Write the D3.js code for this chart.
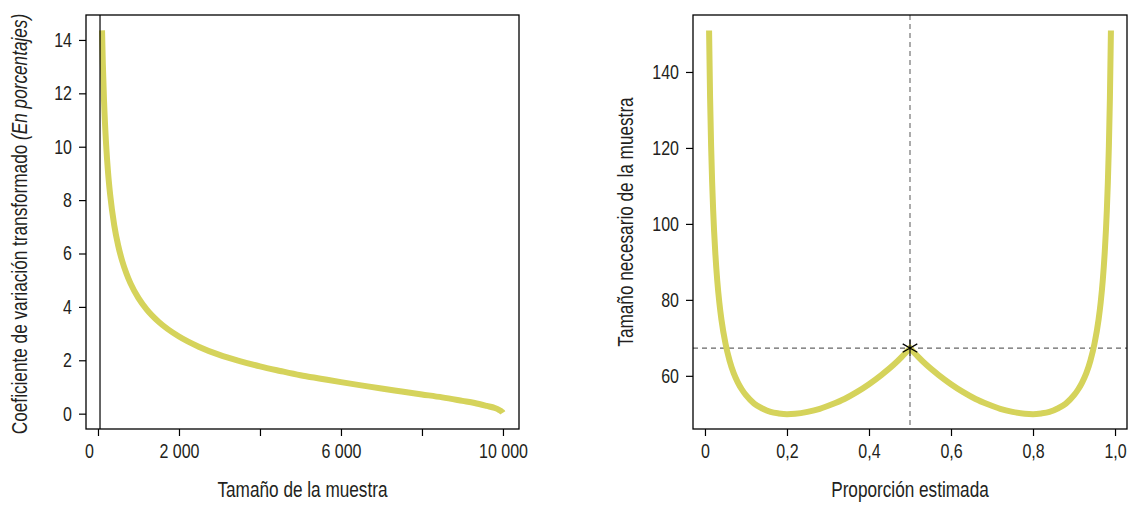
<!DOCTYPE html>
<html>
<head>
<meta charset="utf-8">
<script src="https://cdn.jsdelivr.net/npm/d3@7"></script>
<style>
  html, body { margin: 0; padding: 0; background: #fff; }
  svg { display: block; }
  text {
    font-family: "Liberation Sans", Arial, sans-serif;
    fill: #231f20;
  }
  .tick text { font-size: 20px; }
  .axis-title { font-size: 21.5px; }
</style>
</head>
<body>
<svg id="chart" width="1130" height="506"></svg>
<script>
// ── DATA ───────────────────────────────────────────────────────────────────
// Left panel: sample size vs transformed coefficient of variation (%)
const sampleSize = [100, 120, 150, 200, 250, 300, 400, 500, 600, 700, 800, 1000, 1200, 1500,
  2000, 2500, 3000, 3500, 4000, 4500, 5000, 5500, 6000, 6500, 7000, 7500, 8000, 8500,
  9000, 9300, 9600, 9800, 9900, 9950, 9980, 9995];
const cvTransformed = [14.36, 13.09, 11.69, 10.10, 9.01, 8.21, 7.07, 6.29, 5.71, 5.26, 4.89, 4.33, 3.91, 3.44,
  2.89, 2.50, 2.20, 1.97, 1.77, 1.60, 1.44, 1.31, 1.18, 1.06, 0.94, 0.83, 0.72, 0.61,
  0.48, 0.40, 0.29, 0.21, 0.145, 0.10, 0.065, 0.03];
const minSampleLine = 50;

const xTicksLeft  = [0, 2000, 4000, 6000, 8000, 10000];
const xLabelsLeft = ['0', '2 000', '', '6 000', '', '10 000'];
const yTicksLeft  = [0, 2, 4, 6, 8, 10, 12, 14];

// Right panel: estimated proportion vs required sample size
const proportionLow = [0.01, 0.0125, 0.015, 0.0175, 0.02, 0.025, 0.03, 0.035, 0.04, 0.05, 0.06, 0.07,
  0.08, 0.09, 0.10, 0.12, 0.14, 0.16, 0.18, 0.20, 0.22, 0.25, 0.28, 0.31, 0.34, 0.37, 0.40,
  0.43, 0.46, 0.48, 0.50];
const sizeLow = [150.9, 133.0, 120.4, 110.9, 103.5, 92.7, 85.0, 79.3, 74.9, 68.5, 64.0, 60.7,
  58.3, 56.4, 54.9, 52.7, 51.4, 50.5, 50.1, 49.9, 50.0, 50.5, 51.3, 52.5, 53.9, 55.7, 57.8,
  60.2, 62.9, 65.0, 67.3];
const proportionHigh = [0.50, 0.52, 0.54, 0.57, 0.60, 0.63, 0.66, 0.69, 0.72, 0.75, 0.78, 0.80,
  0.82, 0.84, 0.86, 0.88, 0.90, 0.91, 0.92, 0.93, 0.94, 0.95, 0.96, 0.965, 0.97, 0.975, 0.98,
  0.9825, 0.985, 0.9875, 0.99];
const sizeHigh = [67.3, 65.0, 62.9, 60.2, 57.8, 55.7, 53.9, 52.5, 51.3, 50.5, 50.0, 49.9,
  50.1, 50.5, 51.4, 52.7, 54.9, 56.4, 58.3, 60.7, 64.0, 68.5, 74.9, 79.3, 85.0, 92.7, 103.5,
  110.9, 120.4, 133.0, 150.9];
const refProportion = 0.5;
const refSize = 67.3;

const xTicksRight  = [0, 0.2, 0.4, 0.6, 0.8, 1.0];
const xLabelsRight = ['0', '0,2', '0,4', '0,6', '0,8', '1,0'];
const yTicksRight  = [60, 80, 100, 120, 140];

// ── STYLE ──────────────────────────────────────────────────────────────────
const CURVE_COLOR = '#d5d35b';
const INK         = '#000';
const PAD_FRAC    = 0.04;   // R-style axis padding
const NARROW      = 0.8;    // horizontal squeeze to mimic the condensed face

const svg = d3.select('#chart');

function padded([lo, hi]) {
  const p = (hi - lo) * PAD_FRAC;
  return [lo - p, hi + p];
}

// squeeze every text horizontally (in its own direction), keeping its anchor
function condense(sel) {
  sel.each(function() {
    const t  = d3.select(this);
    const x  = +(t.attr('x') || 0);
    const dx = +(t.attr('dx') || 0);
    t.attr('x', x / NARROW)
     .attr('dx', dx ? dx / NARROW : null)
     .attr('transform', `${t.attr('transform') || ''} scale(${NARROW},1)`.trim());
  });
}

// ── PANEL HELPER ───────────────────────────────────────────────────────────
function drawFrame(box, x, y, xTicks, xLabels, yTicks, xTitle) {
  const g = svg.append('g');

  const xAxis = d3.axisBottom(x)
    .tickValues(xTicks)
    .tickFormat((d, i) => xLabels[i])
    .tickSize(7)
    .tickPadding(8);
  const gx = g.append('g')
    .attr('transform', `translate(0,${box.bottom})`)
    .call(xAxis);
  gx.select('.domain').remove();
  gx.selectAll('.tick line').attr('stroke', INK).attr('stroke-width', 1.2);

  const yAxis = d3.axisLeft(y)
    .tickValues(yTicks)
    .tickFormat(d3.format('d'))
    .tickSize(7)
    .tickPadding(7);
  const gy = g.append('g')
    .attr('transform', `translate(${box.left},0)`)
    .call(yAxis);
  gy.select('.domain').remove();
  gy.selectAll('.tick line').attr('stroke', INK).attr('stroke-width', 1.2);

  g.selectAll('.tick text').attr('font-family', null).attr('font-size', null);

  g.append('text')
    .attr('class', 'axis-title')
    .attr('x', (box.left + box.right) / 2)
    .attr('y', 497)
    .attr('text-anchor', 'middle')
    .text(xTitle);

  return { g, gx, gy };
}

function drawBox(g, box) {
  g.append('rect')
    .attr('x', box.left)
    .attr('y', box.top)
    .attr('width', box.right - box.left)
    .attr('height', box.bottom - box.top)
    .attr('fill', 'none')
    .attr('stroke', INK)
    .attr('stroke-width', 1.3);
}

// ── LEFT PANEL ─────────────────────────────────────────────────────────────
const boxL = { left: 86, right: 519, top: 15, bottom: 429 };

const xL = d3.scaleLinear()
  .domain(padded([sampleSize[0], d3.max(xTicksLeft)]))
  .range([boxL.left, boxL.right]);
const yL = d3.scaleLinear()
  .domain(padded([0, d3.max(cvTransformed)]))
  .range([boxL.bottom, boxL.top]);

const left = drawFrame(boxL, xL, yL, xTicksLeft, xLabelsLeft, yTicksLeft, 'Tamaño de la muestra');
// the "0" label sits a little left of its tick in the original
left.gx.selectAll('.tick text').filter(d => d === 0).attr('dx', -9);

const leftLine = d3.line()
  .x(d => xL(d[0]))
  .y(d => yL(d[1]))
  .curve(d3.curveMonotoneX);

left.g.append('path')
  .datum(d3.zip(sampleSize, cvTransformed))
  .attr('d', leftLine)
  .attr('fill', 'none')
  .attr('stroke', CURVE_COLOR)
  .attr('stroke-width', 6)
  .attr('stroke-linecap', 'butt');

left.g.append('line')
  .attr('x1', xL(minSampleLine)).attr('x2', xL(minSampleLine))
  .attr('y1', boxL.top).attr('y2', boxL.bottom)
  .attr('stroke', INK)
  .attr('stroke-width', 1.2);

drawBox(left.g, boxL);

const yTitleL = left.g.append('text')
  .attr('class', 'axis-title')
  .attr('text-anchor', 'middle')
  .attr('transform', `translate(26.5,${(boxL.top + boxL.bottom) / 2 + 2}) rotate(-90)`);
yTitleL.append('tspan').text('Coeficiente de variación transformado ');
yTitleL.append('tspan').attr('font-style', 'italic').text('(En porcentajes)');

// ── RIGHT PANEL ────────────────────────────────────────────────────────────
const boxR = { left: 693, right: 1127, top: 15, bottom: 429 };

const xR = d3.scaleLinear()
  .domain(padded([proportionLow[0], proportionHigh[proportionHigh.length - 1]]))
  .range([boxR.left, boxR.right]);
const yR = d3.scaleLinear()
  .domain(padded([d3.min(sizeLow), d3.max(sizeLow)]).map(v => Math.round(v)))
  .range([boxR.bottom, boxR.top]);

const right = drawFrame(boxR, xR, yR, xTicksRight, xLabelsRight, yTicksRight, 'Proporción estimada');

// reference lines
right.g.append('line')
  .attr('x1', boxR.left).attr('x2', boxR.right)
  .attr('y1', yR(refSize)).attr('y2', yR(refSize))
  .attr('stroke', '#666').attr('stroke-width', 1.1)
  .attr('stroke-dasharray', '5,4');
right.g.append('line')
  .attr('x1', xR(refProportion)).attr('x2', xR(refProportion))
  .attr('y1', boxR.top).attr('y2', boxR.bottom)
  .attr('stroke', '#666').attr('stroke-width', 1.1)
  .attr('stroke-dasharray', '5,4');

// two monotone halves joined into one path so the peak stays pointed
const rightLine = d3.line()
  .x(d => xR(d[0]))
  .y(d => yR(d[1]))
  .curve(d3.curveMonotoneX);
const pathLow  = rightLine(d3.zip(proportionLow, sizeLow));
const pathHigh = rightLine(d3.zip(proportionHigh, sizeHigh)).replace(/^M/, 'L');

right.g.append('path')
  .attr('d', pathLow + pathHigh)
  .attr('fill', 'none')
  .attr('stroke', CURVE_COLOR)
  .attr('stroke-width', 6)
  .attr('stroke-linejoin', 'miter')
  .attr('stroke-linecap', 'butt');

// asterisk marker
right.g.append('path')
  .attr('transform', `translate(${xR(refProportion)},${yR(refSize)})`)
  .attr('d', d3.symbol(d3.symbolAsterisk, 200)())
  .attr('fill', 'none')
  .attr('stroke', INK)
  .attr('stroke-width', 1.2);

drawBox(right.g, boxR);

right.g.append('text')
  .attr('class', 'axis-title')
  .attr('text-anchor', 'middle')
  .attr('transform', `translate(633,${(boxR.top + boxR.bottom) / 2}) rotate(-90)`)
  .text('Tamaño necesario de la muestra');

condense(svg.selectAll('text'));
</script>
</body>
</html>
